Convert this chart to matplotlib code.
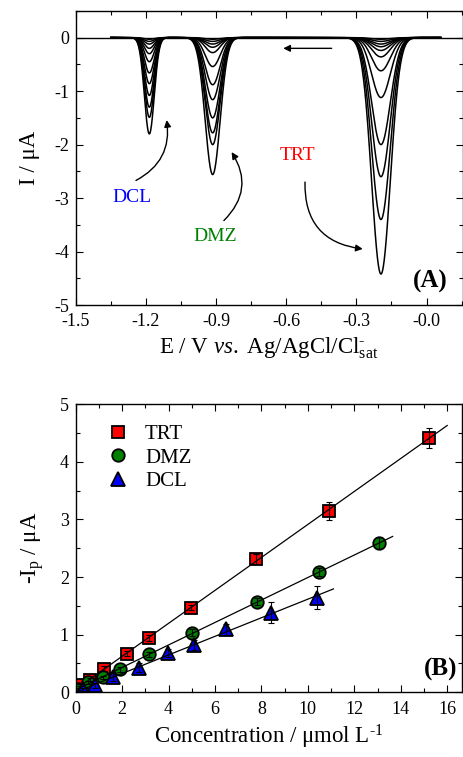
import numpy as np
import matplotlib
matplotlib.use('Agg')
import matplotlib.pyplot as plt
from matplotlib.ticker import MultipleLocator, FormatStrFormatter

plt.rcParams['font.family'] = ['Liberation Serif', 'DejaVu Serif']
plt.rcParams['mathtext.fontset'] = 'custom'
plt.rcParams['mathtext.rm'] = 'Liberation Serif'
plt.rcParams['mathtext.it'] = 'Liberation Serif:italic'
plt.rcParams['mathtext.bf'] = 'Liberation Serif:bold'
plt.rcParams['axes.unicode_minus'] = False

# ---- Panel A: DPV peaks (position, width, height of each recorded curve) ----
peak_potential = [-1.186, -0.915, -0.195]     # DCL, DMZ, TRT (V)
peak_sigma = [0.021, 0.032, 0.040]
dcl_heights = [0.03, 0.07, 0.12, 0.20, 0.30, 0.45, 0.66, 0.86, 1.08, 1.30, 1.49, 1.80]
dmz_heights = [0.03, 0.07, 0.12, 0.18, 0.28, 0.54, 0.88, 1.16, 1.50, 1.78, 2.00, 2.56]
trt_heights = [0.03, 0.07, 0.12, 0.17, 0.24, 0.36, 0.62, 1.12, 2.00, 2.60, 3.40, 4.42]

# ---- Panel B: calibration data ----
trt_conc = [0.19, 0.62, 1.23, 2.22, 3.17, 4.95, 7.78, 10.90, 15.21]
trt_ip = [0.13, 0.22, 0.41, 0.67, 0.94, 1.47, 2.31, 3.15, 4.41]
trt_err = [0.02, 0.03, 0.04, 0.04, 0.05, 0.05, 0.09, 0.16, 0.17]

dmz_conc = [0.12, 0.54, 1.19, 1.92, 3.16, 5.03, 7.81, 10.47, 13.06]
dmz_ip = [0.06, 0.17, 0.26, 0.40, 0.66, 1.03, 1.57, 2.08, 2.59]
dmz_err = [0.02, 0.03, 0.03, 0.04, 0.04, 0.06, 0.06, 0.07, 0.10]

dcl_conc = [0.33, 0.85, 1.60, 2.74, 3.99, 5.09, 6.49, 8.43, 10.41]
dcl_ip = [0.05, 0.12, 0.26, 0.43, 0.68, 0.82, 1.09, 1.38, 1.64]
dcl_err = [0.03, 0.04, 0.07, 0.08, 0.07, 0.08, 0.10, 0.18, 0.20]

fit_range = {'TRT': (0.2, 16.0), 'DMZ': (0.1, 13.65), 'DCL': (0.3, 11.1)}

fig = plt.figure(figsize=(4.63, 7.57), dpi=100)
axA = fig.add_axes([0.164, 0.597, 0.835, 0.3886])
axB = fig.add_axes([0.1635, 0.0855, 0.835, 0.3805])


def style_axes(ax):
    ax.tick_params(which='both', direction='in', top=True, right=True,
                   labelsize=13, width=0.8)
    ax.tick_params(axis='x', pad=6)
    ax.tick_params(axis='y', pad=5)
    ax.tick_params(which='major', length=5)
    ax.tick_params(which='minor', length=3)
    for s in ax.spines.values():
        s.set_linewidth(1.0)


# Panel A
E = np.linspace(-1.35, 0.06, 2000)
axA.axhline(0, color='k', lw=1.0)
for i in range(len(trt_heights)):
    heights = [dcl_heights[i], dmz_heights[i], trt_heights[i]]
    current = np.zeros_like(E)
    for e0, sg, h in zip(peak_potential, peak_sigma, heights):
        current -= h * np.exp(-(E - e0) ** 2 / (2 * sg ** 2))
    axA.plot(E, current, color='k', lw=1.1)

axA.set_xlim(-1.5, 0.154)
axA.set_ylim(-5, 0.5)
axA.xaxis.set_major_locator(MultipleLocator(0.3))
axA.xaxis.set_minor_locator(MultipleLocator(0.15))
axA.xaxis.set_major_formatter(FormatStrFormatter('%.1f'))
axA.yaxis.set_major_locator(MultipleLocator(1))
axA.yaxis.set_minor_locator(MultipleLocator(0.5))
style_axes(axA)
axA.set_xlabel(r'E / V $\mathit{vs.}$ Ag/AgCl/Cl$^{\text{-}}_{\mathrm{sat}}$', fontsize=16.5, labelpad=4)
axA.set_ylabel('I / μA', fontsize=16.5, labelpad=10)

axA.annotate('', xy=(-0.613, -0.2), xytext=(-0.406, -0.2),
             arrowprops=dict(arrowstyle='-|>', color='k', lw=1.0,
                             mutation_scale=10, shrinkA=0, shrinkB=0))
axA.annotate('', xy=(-1.112, -1.54), xytext=(-1.243, -2.67),
             arrowprops=dict(arrowstyle='-|>', color='k', lw=1.0, mutation_scale=10,
                             connectionstyle='arc3,rad=0.35', shrinkA=0, shrinkB=0))
axA.annotate('', xy=(-0.834, -2.14), xytext=(-0.867, -3.42),
             arrowprops=dict(arrowstyle='-|>', color='k', lw=1.0, mutation_scale=10,
                             connectionstyle='arc3,rad=0.4', shrinkA=0, shrinkB=0))
axA.annotate('', xy=(-0.273, -3.95), xytext=(-0.52, -2.70),
             arrowprops=dict(arrowstyle='-|>', color='k', lw=1.0, mutation_scale=10,
                             connectionstyle='arc3,rad=0.45', shrinkA=0, shrinkB=0))
axA.text(-1.262, -2.99, 'DCL', color='#0000ff', fontsize=14, ha='center', va='center')
axA.text(-0.905, -3.71, 'DMZ', color='#008000', fontsize=14, ha='center', va='center')
axA.text(-0.55, -2.21, 'TRT', color='#ff0000', fontsize=14, ha='center', va='center')
axA.text(0.015, -4.56, '(A)', fontsize=18, fontweight='bold', ha='center', va='center')

# Panel B
series = [
    ('TRT', trt_conc, trt_ip, trt_err, 's', '#ff0000', 8),
    ('DMZ', dmz_conc, dmz_ip, dmz_err, 'o', '#008000', 9),
    ('DCL', dcl_conc, dcl_ip, dcl_err, '^', '#0000ff', 10),
]
for name, x, y, err, m, c, ms in series:
    axB.plot(x, y, linestyle='none', marker=m, markersize=ms, markerfacecolor=c,
             markeredgecolor='k', markeredgewidth=1.3, label=name, zorder=2)
    axB.errorbar(x, y, yerr=err, fmt='none', ecolor='k', elinewidth=0.8,
                 capsize=2.5, capthick=0.8, zorder=3)
    slope, intercept = np.polyfit(x, y, 1)
    x0, x1 = fit_range[name]
    xs = np.array([x0, x1])
    axB.plot(xs, slope * xs + intercept, color='k', lw=0.9, zorder=3)

axB.set_xlim(0, 16.65)
axB.set_ylim(0, 5)
axB.xaxis.set_major_locator(MultipleLocator(2))
axB.xaxis.set_minor_locator(MultipleLocator(1))
axB.yaxis.set_major_locator(MultipleLocator(1))
axB.yaxis.set_minor_locator(MultipleLocator(0.5))
style_axes(axB)
axB.set_xlabel(r'Concentration / μmol L$^{\text{-1}}$', fontsize=16.5, labelpad=4)
axB.set_ylabel(r'-I$_{\mathrm{p}}$ / μA', fontsize=16.5, labelpad=10)
axB.text(15.71, 0.39, '(B)', fontsize=18, fontweight='bold', ha='center', va='center')
axB.legend(loc='upper left', bbox_to_anchor=(0.061, 0.958), frameon=False, fontsize=15,
           handlelength=1.0, handletextpad=0.8, labelspacing=0.18, borderaxespad=0.0)

fig.savefig('out.png', dpi=100)
